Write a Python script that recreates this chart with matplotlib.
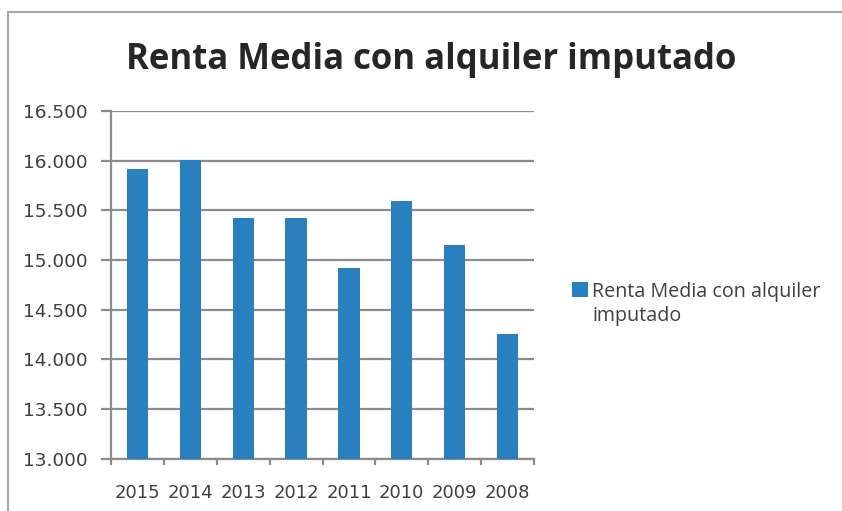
import matplotlib
matplotlib.use("Agg")
import matplotlib.pyplot as plt
from matplotlib.patches import Rectangle
from matplotlib.ticker import FixedLocator, FuncFormatter

years = ["2015", "2014", "2013", "2012", "2011", "2010", "2009", "2008"]
renta = [15916, 16007, 15425, 15425, 14916, 15598, 15148, 14255]
y_ticks = [13000, 13500, 14000, 14500, 15000, 15500, 16000, 16500]

title = "Renta Media con alquiler imputado"
series_lines = ["Renta Media con alquiler", "imputado"]

W, H = 842, 511
fig = plt.figure(figsize=(W / 100, H / 100), dpi=100)
fig.patch.set_facecolor("white")

# chart area frame
fig.patches.append(Rectangle((8 / W, -0.05), 1.2, (H - 12) / H + 0.05,
                             transform=fig.transFigure, fill=False,
                             edgecolor="#a6a6a6", linewidth=1.5))

ax = fig.add_axes([111 / W, (H - 458.5) / H, 423 / W, (458.5 - 111) / H])
grid_c = "#8c8c8c"
bar_c = "#2a7fbf"
txt_c = "#404040"

x = list(range(len(years)))
ax.bar(x, renta, width=0.4, color=bar_c, zorder=3)

ax.set_ylim(13000, 16500)
ax.set_xlim(-0.5, len(years) - 0.5)
ax.set_yticks(y_ticks)
ax.yaxis.set_major_formatter(FuncFormatter(lambda v, p: f"{int(v):,}".replace(",", ".")))
ax.grid(axis="y", color=grid_c, linewidth=1.6, zorder=0)

ax.set_xticks(x)
ax.set_xticklabels(years)
ax.xaxis.set_minor_locator(FixedLocator([i - 0.5 for i in range(len(years) + 1)]))
ax.tick_params(axis="x", which="major", length=0, pad=18, labelsize=13, labelcolor=txt_c)
ax.tick_params(axis="x", which="minor", length=4, width=1.6, color=grid_c, direction="out")
ax.tick_params(axis="y", length=7, width=1.6, color=grid_c, pad=10, labelsize=13.3, labelcolor=txt_c)

for s in ["top", "right"]:
    ax.spines[s].set_visible(False)
for s in ["left", "bottom"]:
    ax.spines[s].set_color(grid_c)
    ax.spines[s].set_linewidth(1.6)
ax.set_axisbelow(True)

fig.text(431 / W, 1 - 68.5 / H, title, ha="center", va="baseline",
         fontsize=25, fontweight="bold", family="Open Sans", color="#262626")

# legend
fig.patches.append(Rectangle((572 / W, 1 - 297 / H), 16 / W, 15 / H,
                             transform=fig.transFigure, facecolor=bar_c, edgecolor="none"))
for i, line in enumerate(series_lines):
    fig.text(592 / W, 1 - (297 + 24 * i) / H, line, ha="left", va="baseline",
             fontsize=14.2, family="Open Sans", color=txt_c)

fig.savefig("out.png", dpi=100)
